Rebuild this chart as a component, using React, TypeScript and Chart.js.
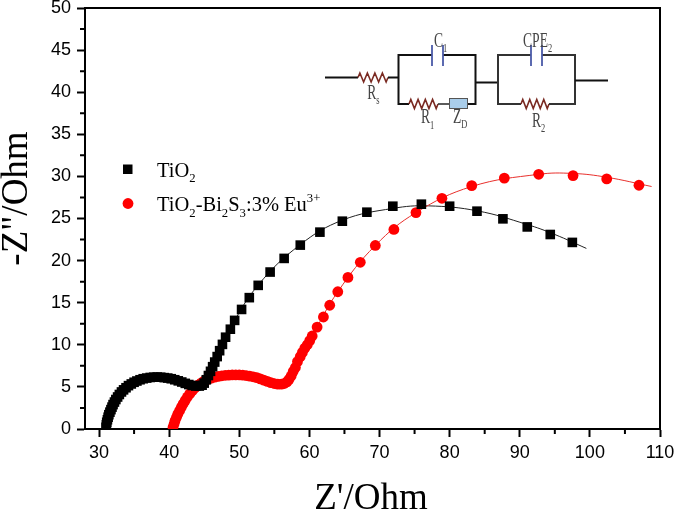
import React, { useEffect, useRef } from "react";
import { Chart, registerables } from "chart.js";

Chart.register(...registerables);

const tio2X = [31.0,31.05,31.1,31.2,31.3,31.4,31.55,31.7,31.85,32.0,32.2,32.4,32.65,32.9,33.2,33.5,33.85,34.2,34.6,35,35.4,35.85,36.3,36.8,37.3,37.8,38.3,38.8,39.3,39.8,40.3,40.8,41.3,41.8,42.3,42.8,43.3,43.8,44.3,44.7,45.0,45.3,45.6,45.9,46.2,46.5,46.85,47.2,47.6,48.05,48.73,49.34,50.33,51.43,52.7,54.4,56.4,58.7,61.5,64.7,68.2,71.9,75.97,80.0,83.9,87.6,91.07,94.35,97.5];
const tio2Y = [0.2,0.5,0.8,1.1,1.4,1.7,2.0,2.3,2.6,2.9,3.2,3.5,3.8,4.1,4.4,4.65,4.9,5.15,5.35,5.55,5.7,5.85,5.97,6.05,6.12,6.15,6.17,6.15,6.1,6.05,5.97,5.85,5.72,5.58,5.42,5.28,5.17,5.1,5.1,5.2,5.45,5.85,6.35,6.85,7.4,7.95,8.6,9.3,10.05,10.9,11.85,12.9,14.2,15.6,17.06,18.64,20.26,21.84,23.38,24.68,25.75,26.46,26.7,26.46,25.87,24.96,24.0,23.1,22.16];
const dopedX = [40.55,40.7,40.85,41.05,41.25,41.5,41.75,42.0,42.3,42.6,42.95,43.3,43.7,44.1,44.55,45,45.5,46,46.5,47,47.5,48,48.5,49,49.5,50,50.5,51,51.5,52,52.5,53,53.5,54,54.5,55,55.5,56,56.4,56.8,57.1,57.4,57.7,58.0,58.3,58.7,59.0,59.35,59.7,60.05,60.4,61.1,62,62.9,64.05,65.5,67.26,69.4,72.05,75.2,78.9,83.15,87.8,92.7,97.6,102.4,107];
const dopedY = [0.2,0.6,1.0,1.4,1.8,2.2,2.6,3.0,3.4,3.8,4.2,4.55,4.9,5.2,5.45,5.7,5.9,6.05,6.15,6.25,6.32,6.38,6.4,6.42,6.42,6.42,6.4,6.35,6.28,6.2,6.1,5.95,5.8,5.65,5.5,5.4,5.33,5.32,5.4,5.6,5.9,6.3,6.85,7.3,8,8.6,9.1,9.6,10,10.5,11.05,12.1,13.3,14.7,16.3,18,19.8,21.8,23.7,25.7,27.4,28.9,29.8,30.25,30.1,29.7,28.95];
const tio2FitX = [44.5,46.2,48.7,52.7,58.7,64.7,71.9,77,84,91,95,99.5];
const tio2FitY = [5.2,7.4,11.9,17.1,21.9,24.8,26.2,26.5,25.9,24.3,23.1,21.45];
const dopedFitX = [55.8,58,60.4,64.05,69.4,75.2,83.15,92.7,97.6,102.4,108.8];
const dopedFitY = [5.3,7.4,11.05,16.3,21.8,25.7,28.8,30.25,30.35,29.9,28.8];
const xTicks = [30,40,50,60,70,80,90,100,110];
const yTicks = [0,5,10,15,20,25,30,35,40,45,50];
const xMinorTicks = [35,45,55,65,75,85,95,105];
const yMinorTicks = [2.5,7.5,12.5,17.5,22.5,27.5,32.5,37.5,42.5,47.5];
const xTitle = "Z'/Ohm";
const yTitle = "-Z\"/Ohm";

const pairs = (xs: number[], ys: number[]) => xs.map((x, i) => ({ x, y: ys[i] }));

type Part = [string, "n" | "sub" | "sup"];
function rich(ctx: CanvasRenderingContext2D, x: number, y: number, parts: Part[], size: number, color = "#000", sx = 1) {
  ctx.save();
  ctx.translate(x, y);
  ctx.scale(sx, 1);
  ctx.fillStyle = color;
  ctx.textAlign = "left";
  ctx.textBaseline = "alphabetic";
  let cx = 0;
  for (const [t, k] of parts) {
    const s = k === "n" ? size : size * 0.62;
    ctx.font = `${s}px "Liberation Serif"`;
    const dy = k === "sub" ? size * 0.27 : k === "sup" ? -size * 0.42 : 0;
    ctx.fillText(t, cx, dy);
    cx += ctx.measureText(t).width;
  }
  ctx.restore();
}

function wire(ctx: CanvasRenderingContext2D, pts: number[][], color = "#111", w = 2) {
  ctx.strokeStyle = color;
  ctx.lineWidth = w;
  ctx.beginPath();
  pts.forEach((p, i) => (i ? ctx.lineTo(p[0], p[1]) : ctx.moveTo(p[0], p[1])));
  ctx.stroke();
}
function resistor(ctx: CanvasRenderingContext2D, x0: number, x1: number, y: number) {
  const n = 8;
  const pts: number[][] = [[x0, y]];
  for (let i = 0; i < n; i++) pts.push([x0 + ((i + 0.5) * (x1 - x0)) / n, y + (i % 2 ? 4.5 : -4.5)]);
  pts.push([x1, y]);
  wire(ctx, pts, "#7a2a22", 1.6);
}
function cap(ctx: CanvasRenderingContext2D, x0: number, x1: number, y: number) {
  wire(ctx, [[x0, y - 10], [x0, y + 11]], "#4a5aa8", 1.8);
  wire(ctx, [[x1, y - 10], [x1, y + 11]], "#4a5aa8", 1.8);
}

const overlay = {
  id: "overlay",
  afterDatasetsDraw(chart: any) {
    const ctx: CanvasRenderingContext2D = chart.ctx;
    ctx.save();
    ctx.fillStyle = "#000";
    ctx.font = '37px "Liberation Serif"';
    ctx.textAlign = "center";
    ctx.textBaseline = "alphabetic";
    ctx.fillText(xTitle, 371, 509);
    ctx.save();
    ctx.translate(27, 198.5);
    ctx.rotate(-Math.PI / 2);
    ctx.fillText(yTitle, 0, 0);
    ctx.restore();

    // legend
    ctx.fillStyle = "#000";
    ctx.fillRect(123, 164.5, 9.5, 9.5);
    ctx.fillStyle = "#ff0000";
    ctx.beginPath();
    ctx.arc(128, 203.5, 5.4, 0, Math.PI * 2);
    ctx.fill();
    rich(ctx, 157, 176.5, [["TiO", "n"], ["2", "sub"]], 20.5);
    rich(ctx, 157, 211, [["TiO", "n"], ["2", "sub"], ["-Bi", "n"], ["2", "sub"], ["S", "n"], ["3", "sub"], [":3% Eu", "n"], ["3+", "sup"]], 20.5);

    // equivalent circuit inset
    wire(ctx, [[325, 77.5], [358, 77.5]], "#111", 2);
    resistor(ctx, 358, 388, 77.5);
    wire(ctx, [[388, 77.5], [398, 77.5]], "#111", 2);
    wire(ctx, [[432, 55], [398.5, 55], [398.5, 104], [409, 104]], "#111", 2);
    resistor(ctx, 409, 438, 104);
    wire(ctx, [[438, 104], [449, 104]], "#333", 1.6);
    wire(ctx, [[467, 104], [475.5, 104], [475.5, 55], [443, 55]], "#111", 2);
    cap(ctx, 432, 443, 55);
    ctx.fillStyle = "#a9cdea";
    ctx.fillRect(449.5, 98.5, 18, 10);
    ctx.strokeStyle = "#555";
    ctx.lineWidth = 1;
    ctx.strokeRect(449.5, 98.5, 18, 10);
    wire(ctx, [[476, 82.5], [498, 82.5]], "#111", 2);
    wire(ctx, [[531, 55], [498, 55], [498, 104], [521, 104]], "#333", 2);
    resistor(ctx, 521, 549, 104);
    wire(ctx, [[549, 104], [575, 104], [575, 55], [542, 55]], "#333", 2);
    cap(ctx, 531, 542, 55);
    wire(ctx, [[575, 80.5], [608, 80.5]], "#111", 2);
    const g = "#444";
    rich(ctx, 434, 46.7, [["C", "n"], ["1", "sub"]], 20, g, 0.68);
    rich(ctx, 523, 46.7, [["CPE", "n"], ["2", "sub"]], 20, g, 0.68);
    rich(ctx, 367.3, 99, [["R", "n"], ["s", "sub"]], 20, g, 0.68);
    rich(ctx, 421, 123.3, [["R", "n"], ["1", "sub"]], 20, g, 0.68);
    rich(ctx, 453, 123, [["Z", "n"], ["D", "sub"]], 20, g, 0.68);
    rich(ctx, 532, 126.7, [["R", "n"], ["2", "sub"]], 20, g, 0.68);
    ctx.restore();
  },
};

const frame = {
  id: "frame",
  beforeDatasetsDraw(c: any) {
    const { left, right, top, bottom } = c.chartArea;
    const ctx: CanvasRenderingContext2D = c.ctx;
    ctx.save();
    ctx.strokeStyle = "#000";
    ctx.lineWidth = 2;
    ctx.beginPath();
    ctx.moveTo(left, top);
    ctx.lineTo(right, top);
    ctx.lineTo(right, bottom);
    for (const v of xMinorTicks) {
      const p = c.scales.x.getPixelForValue(v);
      ctx.moveTo(p, bottom);
      ctx.lineTo(p, bottom + 5);
    }
    for (const v of yMinorTicks) {
      const p = c.scales.y.getPixelForValue(v);
      ctx.moveTo(left, p);
      ctx.lineTo(left - 5, p);
    }
    ctx.stroke();
    ctx.restore();
  },
};

const fixWidth = (w: number) => (s: any) => { s.width = w; s.paddingTop = 0; s.paddingBottom = 0; };
const fixHeight = (h: number) => (s: any) => { s.height = h; s.paddingLeft = 0; s.paddingRight = 0; };

export default function App() {
  const ref = useRef<HTMLCanvasElement>(null);
  useEffect(() => {
    document.body.style.margin = "0";
    document.body.style.background = "#fff";
    const chart = new Chart(ref.current!, {
      type: "scatter",
      data: {
        datasets: [
          { label: "TiO2 fit", data: pairs(tio2FitX, tio2FitY), showLine: true, borderColor: "#222", borderWidth: 1, pointRadius: 0, tension: 0.4, order: 4 },
          { label: "TiO2-Bi2S3:3% Eu3+ fit", data: pairs(dopedFitX, dopedFitY), showLine: true, borderColor: "#e8302c", borderWidth: 1, pointRadius: 0, tension: 0.4, order: 3 },
          { label: "TiO2-Bi2S3:3% Eu3+", data: pairs(dopedX, dopedY), pointStyle: "circle", pointRadius: 5.4, backgroundColor: "#ff0000", borderWidth: 0, order: 2 },
          { label: "TiO2", data: pairs(tio2X, tio2Y), pointStyle: "rect", pointRadius: 6.8, backgroundColor: "#000", borderWidth: 0, order: 1 },
        ],
      },
      options: {
        responsive: false,
        animation: false,
        layout: { padding: { top: 8, right: 15, left: 0, bottom: 0 } },
        plugins: { legend: { display: false }, tooltip: { enabled: false } },
        scales: {
          x: {
            type: "linear", min: 28, max: 110,
            afterFit: fixHeight(82),
            afterBuildTicks: (s: any) => { s.ticks = xTicks.map((value) => ({ value })); },
            grid: { display: true, drawOnChartArea: false, drawTicks: true, tickLength: 8, tickWidth: 2, tickColor: "#000" },
            border: { display: true, color: "#000", width: 2 },
            ticks: { autoSkip: false, maxRotation: 0, padding: 5, color: "#000", font: { family: "Liberation Sans", size: 18 } },
          },
          y: {
            type: "linear", min: 0, max: 50,
            afterFit: fixWidth(85),
            afterBuildTicks: (s: any) => { s.ticks = yTicks.map((value) => ({ value })); },
            grid: { display: true, drawOnChartArea: false, drawTicks: true, tickLength: 8, tickWidth: 2, tickColor: "#000" },
            border: { display: true, color: "#000", width: 2 },
            ticks: { autoSkip: false, padding: 6, color: "#000", font: { family: "Liberation Sans", size: 18 } },
          },
        },
      },
      plugins: [frame, overlay],
    } as any);
    return () => chart.destroy();
  }, []);
  return <canvas ref={ref} width={675} height={511} style={{ display: "block", width: 675, height: 511 }} />;
}
